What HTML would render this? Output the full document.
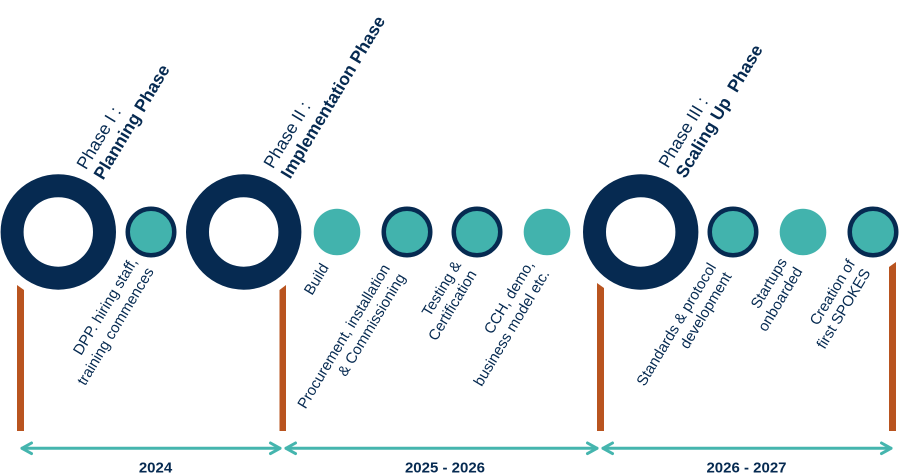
<!DOCTYPE html>
<html>
<head>
<meta charset="utf-8">
<style>
  html, body { margin:0; padding:0; background:#ffffff; }
  body { width:900px; height:476px; overflow:hidden; }
  svg { display:block; }
  text { font-family: "Liberation Sans", Arial, sans-serif; fill:#062a51; }
  .t { font-size:17.5px; }
  .b { font-weight:bold; }
  .i { font-size:15px; }
  .y { font-size:15px; font-weight:bold; }
</style>
</head>
<body>
<svg width="900" height="476" viewBox="0 0 900 476" xmlns="http://www.w3.org/2000/svg">
  <!-- orange bars -->
  <g fill="#b9541f">
    <polygon points="17,285 24,290 24,431 17,431"/>
    <polygon points="279.5,290 286,285 286,431 279.5,431"/>
    <polygon points="597,283 604,288 604,431 597,431"/>
    <polygon points="889,267 896,262 896,431 889,431"/>
  </g>

  <!-- big rings -->
  <g fill="none" stroke="#062a51" stroke-width="23">
    <circle cx="58.3" cy="232" r="46.2"/>
    <circle cx="243.7" cy="232" r="46.2"/>
    <circle cx="640.7" cy="232" r="46.2"/>
  </g>

  <!-- outlined teal circles -->
  <g fill="#42b3ad" stroke="#062a51" stroke-width="4.5">
    <circle cx="151" cy="232" r="23.25"/>
    <circle cx="407" cy="232" r="23.25"/>
    <circle cx="477" cy="232" r="23.25"/>
    <circle cx="733" cy="232" r="23.25"/>
    <circle cx="873" cy="232" r="23.25"/>
  </g>
  <!-- plain teal circles -->
  <g fill="#42b3ad">
    <circle cx="337" cy="232" r="23.3"/>
    <circle cx="547" cy="232" r="23.3"/>
    <circle cx="803" cy="232" r="23.3"/>
  </g>

  <!-- arrows -->
  <g stroke="#45b5ae" stroke-width="3" fill="none" stroke-linecap="round" stroke-linejoin="round">
    <line x1="22" y1="448.3" x2="280" y2="448.3"/>
    <polyline points="31.5,443 22,448.3 31.5,453.6"/>
    <polyline points="270.5,443 280,448.3 270.5,453.6"/>

    <line x1="286" y1="448.3" x2="597" y2="448.3"/>
    <polyline points="295.5,443 286,448.3 295.5,453.6"/>
    <polyline points="587.5,443 597,448.3 587.5,453.6"/>

    <line x1="603" y1="448.3" x2="891" y2="448.3"/>
    <polyline points="612.5,443 603,448.3 612.5,453.6"/>
    <polyline points="881.5,443 891,448.3 881.5,453.6"/>
  </g>

  <!-- year labels -->
  <text class="y" x="155.5" y="472.3" text-anchor="middle">2024</text>
  <text class="y" x="445" y="472.3" text-anchor="middle">2025 - 2026</text>
  <text class="y" x="746.5" y="472.3" text-anchor="middle">2026 - 2027</text>

  <!-- phase titles -->
  <g transform="translate(86,170.5) rotate(-59)">
    <text class="t" x="0" y="0">Phase I :</text>
    <text class="t b" x="0" y="20">Planning Phase</text>
  </g>
  <g transform="translate(273,169.5) rotate(-59)">
    <text class="t" x="0" y="0">Phase II :</text>
    <text class="t b" x="0" y="20">Implementation Phase</text>
  </g>
  <g transform="translate(668,169) rotate(-59)">
    <text class="t" x="0" y="0">Phase III :</text>
    <text class="t b" x="0" y="20" xml:space="preserve" style="white-space:pre">Scaling Up  Phase</text>
  </g>

  <!-- item labels -->
  <g transform="translate(80,358) rotate(-59)">
    <text class="i" x="112.5" y="0" text-anchor="end">DPP. hiring staff,</text>
    <text class="i" x="112.5" y="19" text-anchor="end">training commences</text>
  </g>
  <g transform="translate(312,296) rotate(-59)">
    <text class="i" x="0" y="0">Build</text>
  </g>
  <g transform="translate(305.5,409.5) rotate(-59)">
    <text class="i" x="165" y="0" text-anchor="end">Procurement, installation</text>
    <text class="i" x="165" y="18" text-anchor="end">&amp; Commissioning</text>
  </g>
  <g transform="translate(429,319) rotate(-59)">
    <text class="i" x="63.4" y="0" text-anchor="end">Testing &amp;</text>
    <text class="i" x="63.4" y="18" text-anchor="end">Certification</text>
  </g>
  <g transform="translate(492,335) rotate(-59)">
    <text class="i" x="82.5" y="0" text-anchor="end">CCH, demo,</text>
    <text class="i" x="82.5" y="18" text-anchor="end">business model etc.</text>
  </g>
  <g transform="translate(644.5,387) rotate(-59)">
    <text class="i" x="140.1" y="0" text-anchor="end">Standards &amp; protocol</text>
    <text class="i" x="140.1" y="18" text-anchor="end">development</text>
  </g>
  <g transform="translate(758.7,309.7) rotate(-59)">
    <text class="i" x="55.9" y="0" text-anchor="end">Startups</text>
    <text class="i" x="55.9" y="18" text-anchor="end">onboarded</text>
  </g>
  <g transform="translate(817.7,326.3) rotate(-59)">
    <text class="i" x="73.4" y="0" text-anchor="end">Creation of</text>
    <text class="i" x="73.4" y="18" text-anchor="end">first SPOKES</text>
  </g>
</svg>
</body>
</html>
